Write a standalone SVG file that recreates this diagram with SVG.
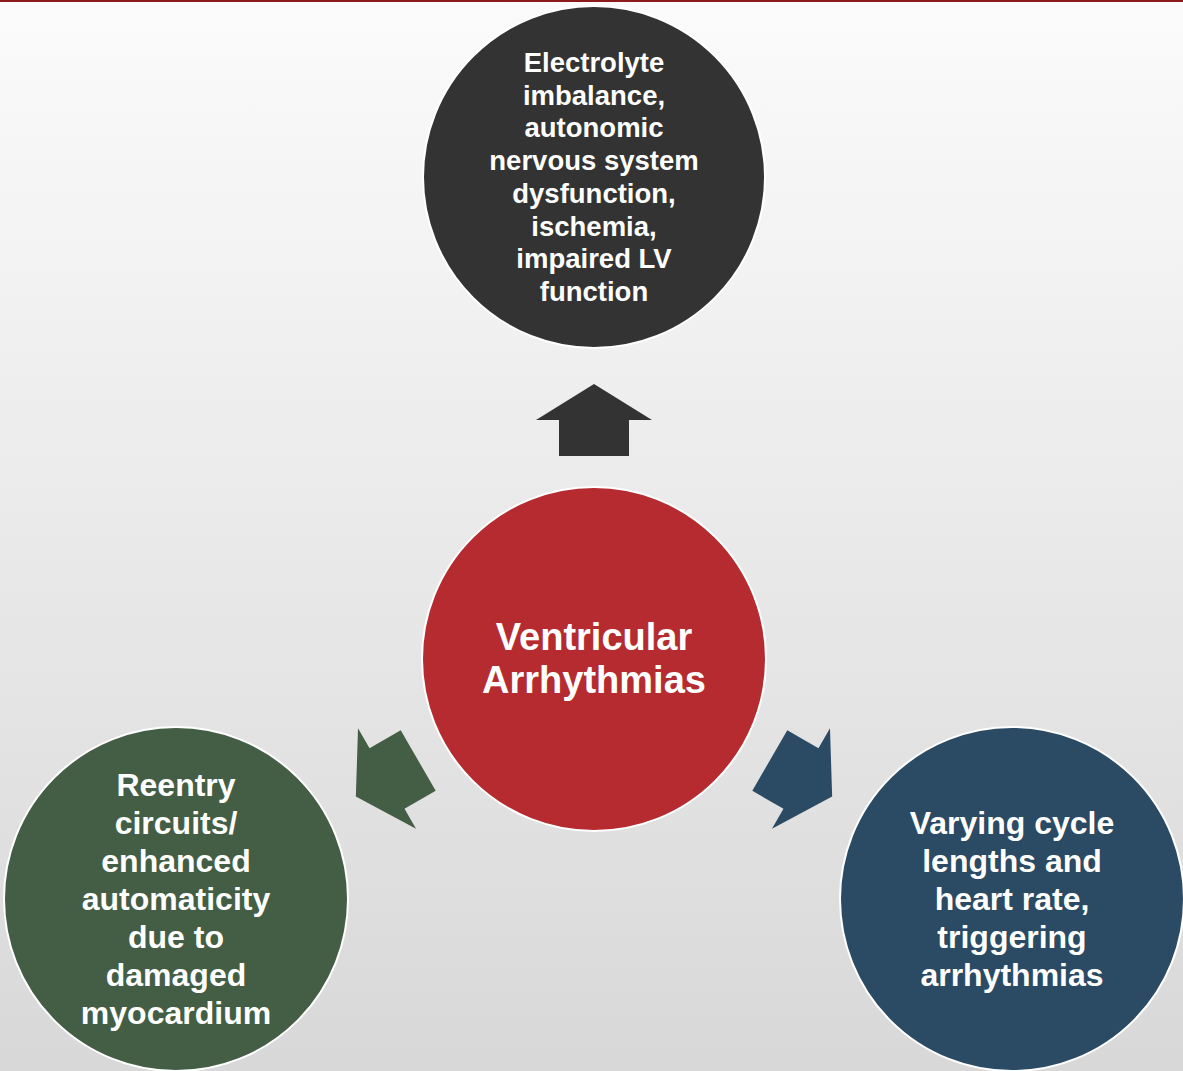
<svg xmlns="http://www.w3.org/2000/svg" width="1183" height="1071" viewBox="0 0 1183 1071">
<defs>
<linearGradient id="bg" x1="0" y1="0" x2="0" y2="1">
<stop offset="0" stop-color="#fbfbfb"/>
<stop offset="1" stop-color="#d8d8d8"/>
</linearGradient>
<path id="arrow" d="M594,384 L652,420 L629,420 L629,456 L559,456 L559,420 L536,420 Z"/>
</defs>
<style>
.node{stroke:#ffffff;stroke-width:2}
.t{font-family:"Liberation Sans",Arial,sans-serif;font-weight:bold;fill:#ffffff;text-anchor:middle}
.ts{font-size:27.5px}
.tm{font-size:32px}
.tl{font-size:38px}
</style>
<rect x="0" y="0" width="1183" height="1071" fill="url(#bg)"/>
<rect x="0" y="0" width="1183" height="2" fill="#8e1b1b"/>
<g id="connectors">
<use href="#arrow" fill="#333333"/>
<use href="#arrow" fill="#445e45" transform="rotate(-120 594 659)"/>
<use href="#arrow" fill="#2b4a63" transform="rotate(120 594 659)"/>
</g>
<g id="node-top">
<circle class="node" cx="594" cy="177" r="171" fill="#333333"/>
<g class="t ts">
<text x="594" y="72">Electrolyte</text>
<text x="594" y="105">imbalance,</text>
<text x="594" y="137">autonomic</text>
<text x="594" y="170">nervous system</text>
<text x="594" y="203">dysfunction,</text>
<text x="594" y="236">ischemia,</text>
<text x="594" y="268">impaired LV</text>
<text x="594" y="301">function</text>
</g>
</g>
<g id="node-center">
<circle class="node" cx="594" cy="659" r="172" fill="#b52b2f"/>
<g class="t tl">
<text x="594" y="650">Ventricular</text>
<text x="594" y="693">Arrhythmias</text>
</g>
</g>
<g id="node-left">
<circle class="node" cx="176" cy="899" r="172" fill="#445e45"/>
<g class="t tm">
<text x="176" y="796">Reentry</text>
<text x="176" y="834">circuits/</text>
<text x="176" y="872">enhanced</text>
<text x="176" y="910">automaticity</text>
<text x="176" y="948">due to</text>
<text x="176" y="986">damaged</text>
<text x="176" y="1024">myocardium</text>
</g>
</g>
<g id="node-right">
<circle class="node" cx="1012" cy="899" r="172" fill="#2b4a63"/>
<g class="t tm">
<text x="1012" y="834">Varying cycle</text>
<text x="1012" y="872">lengths and</text>
<text x="1012" y="910">heart rate,</text>
<text x="1012" y="948">triggering</text>
<text x="1012" y="986">arrhythmias</text>
</g>
</g>
</svg>
